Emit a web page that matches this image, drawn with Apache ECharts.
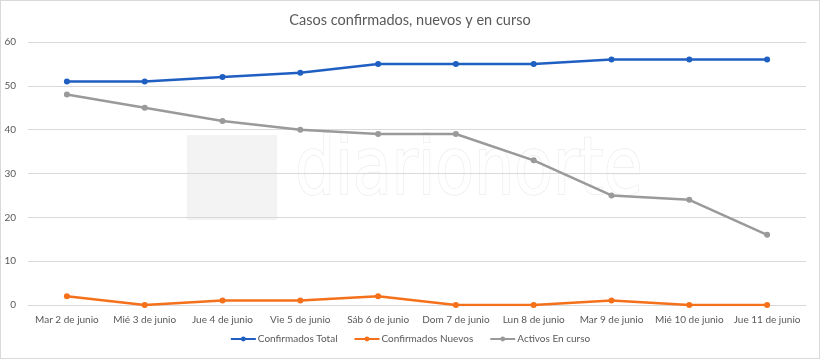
<!DOCTYPE html>
<html>
<head>
<meta charset="utf-8">
<script src="https://cdn.jsdelivr.net/npm/echarts@6/dist/echarts.min.js"></script>
<style>
html,body{margin:0;padding:0;background:#fff;}
#c{width:818px;height:357px;border:1px solid #d9d9d9;}
</style>
</head>
<body>
<div id="c"></div>
<script>
const categories = ["Mar 2 de junio","Mié 3 de junio","Jue 4 de junio","Vie 5 de junio","Sáb 6 de junio","Dom 7 de junio","Lun 8 de junio","Mar 9 de junio","Mié 10 de junio","Jue 11 de junio"];
const confirmadosTotal = [51,51,52,53,55,55,55,56,56,56];
const confirmadosNuevos = [2,0,1,1,2,0,0,1,0,0];
const activosEnCurso = [48,45,42,40,39,39,33,25,24,16];
const seriesNames = ["Confirmados Total","Confirmados Nuevos","Activos En curso"];
const titleText = "Casos confirmados, nuevos y en curso";

const chart = echarts.init(document.getElementById('c'), null, {renderer:'canvas'});
const font = 'Lato, "Open Sans", sans-serif';
function mk(name, data, color){
  return {name, type:'line', data, color, symbol:'circle', symbolSize:6,
    lineStyle:{width:2.5, color}, itemStyle:{color}, z:3, animation:false};
}
chart.setOption({
  animation:false,
  textStyle:{fontFamily:font},
  title:{text:titleText, left:'center', top:7,
    textStyle:{fontFamily:font, fontSize:14.5, fontWeight:'normal', color:'#595959'}},
  grid:{left:27, right:13, top:41, bottom:53, outerBoundsMode:'none'},
  legend:{bottom:9, left:'center', itemWidth:25, itemHeight:6, itemGap:16,
    textStyle:{fontFamily:font, fontSize:10, color:'#595959', padding:[0,0,0,-3]},
    data:seriesNames},
  graphic:[
    {type:'rect', left:186, top:134, shape:{width:90, height:85}, style:{fill:'#f3f3f3'}, z:0, silent:true},
    {type:'text', x:294, y:132, scaleX:0.88, style:{text:'diarionorte', fontSize:80, fontFamily:'"DejaVu Sans Condensed", sans-serif', fill:'#ffffff', stroke:'#ececec', lineWidth:1.5}, z:0, silent:true}
  ],
  xAxis:{type:'category', data:categories, boundaryGap:true,
    axisLine:{lineStyle:{color:'#d9d9d9'}}, axisTick:{show:false},
    axisLabel:{fontFamily:font, fontSize:10, color:'#595959', margin:10, interval:0}},
  yAxis:{type:'value', min:0, max:60, interval:10,
    axisLine:{show:false}, axisTick:{show:false},
    splitLine:{lineStyle:{color:'#d9d9d9'}},
    axisLabel:{fontFamily:font, fontSize:10, color:'#595959', margin:12}},
  series:[
    mk(seriesNames[0], confirmadosTotal, '#1f5fc2'),
    mk(seriesNames[1], confirmadosNuevos, '#f5701a'),
    mk(seriesNames[2], activosEnCurso, '#9a9a9a')
  ]
});
</script>
</body>
</html>
